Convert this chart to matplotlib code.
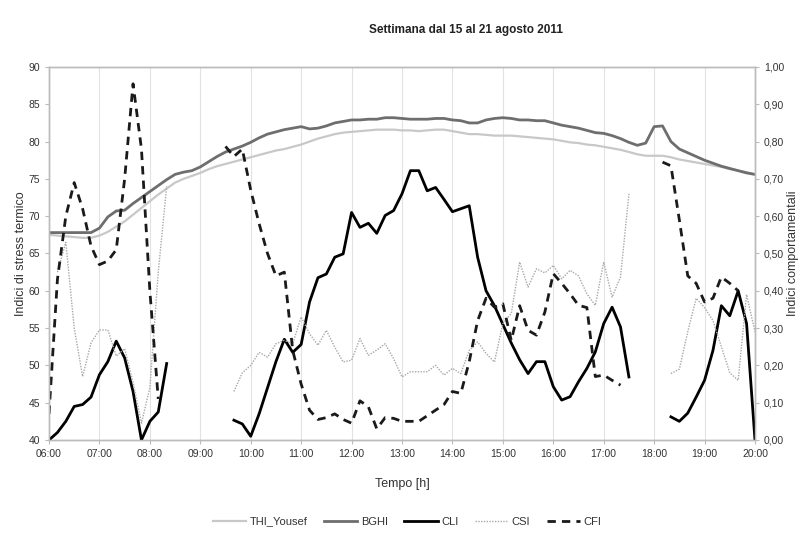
import numpy as np
import matplotlib
matplotlib.use("Agg")
import matplotlib.pyplot as plt
from matplotlib.ticker import FuncFormatter, MultipleLocator

plt.rcParams['font.family'] = ['Liberation Sans', 'DejaVu Sans']

nan = np.nan

# 10-minute readings from 06:00 to 20:00
hours = np.arange(85) / 6.0 + 6.0

thi = [67.5, 67.4, 67.3, 67.2, 67.1, 67.1, 67.4, 67.9, 68.6, 69.3,
       70.2, 71.1, 72.0, 72.9, 73.7, 74.5, 75.0, 75.4, 75.8, 76.3,
       76.7, 77.0, 77.3, 77.6, 77.9, 78.2, 78.5, 78.8, 79.0, 79.3,
       79.6, 80.0, 80.4, 80.7, 81.0, 81.2, 81.3, 81.4, 81.5, 81.6,
       81.6, 81.6, 81.5, 81.5, 81.4, 81.5, 81.6, 81.6, 81.4, 81.2,
       81.0, 81.0, 80.9, 80.8, 80.8, 80.8, 80.7, 80.6, 80.5, 80.4,
       80.3, 80.1, 79.9, 79.8, 79.6, 79.5, 79.3, 79.1, 78.9, 78.6,
       78.3, 78.1, 78.1, 78.1, 77.9, 77.6, 77.4, 77.2, 77.0, 76.8,
       76.6, 76.3, 76.1, 75.9, 75.6]

bghi = [67.8, 67.8, 67.8, 67.8, 67.8, 67.8, 68.4, 69.9, 70.7, 70.8,
        71.7, 72.5, 73.3, 74.1, 74.9, 75.6, 75.9, 76.1, 76.6, 77.3,
        78.0, 78.6, 79.0, 79.4, 79.9, 80.5, 81.0, 81.3, 81.6, 81.8,
        82.0, 81.7, 81.8, 82.1, 82.5, 82.7, 82.9, 82.9, 83.0, 83.0,
        83.2, 83.2, 83.1, 83.0, 83.0, 83.0, 83.1, 83.1, 82.9, 82.8,
        82.5, 82.5, 82.9, 83.1, 83.2, 83.1, 82.9, 82.9, 82.8, 82.8,
        82.5, 82.2, 82.0, 81.8, 81.5, 81.2, 81.1, 80.8, 80.4, 79.9,
        79.5, 79.8, 82.0, 82.1, 80.0, 79.0, 78.5, 78.0, 77.5, 77.1,
        76.7, 76.4, 76.1, 75.8, 75.6]

cli = [0.00, 0.02, 0.05, 0.09, 0.095, 0.115, 0.175, 0.21, 0.265, 0.22,
       0.13, 0.00, 0.05, 0.075, 0.205, nan, nan, nan, nan, nan,
       nan, nan, 0.053, 0.043, 0.01, 0.07, 0.14, 0.21, 0.27, 0.235,
       0.256, 0.37, 0.435, 0.445, 0.49, 0.499, 0.61, 0.57, 0.581, 0.554,
       0.602, 0.615, 0.66, 0.722, 0.722, 0.668, 0.677, 0.645, 0.612, 0.62,
       0.628, 0.49, 0.40, 0.36, 0.31, 0.26, 0.215, 0.178, 0.21, 0.21,
       0.143, 0.107, 0.116, 0.156, 0.192, 0.236, 0.312, 0.356, 0.303, 0.169,
       nan, nan, nan, nan, 0.062, 0.05, 0.072, 0.115, 0.16, 0.24,
       0.36, 0.333, 0.40, 0.312, 0.00]

csi = [nan, 0.45, 0.53, 0.30, 0.17, 0.26, 0.295, 0.295, 0.225, 0.245,
       0.155, 0.045, 0.14, 0.45, 0.68, nan, nan, nan, nan, nan,
       nan, nan, 0.13, 0.18, 0.20, 0.235, 0.222, 0.258, 0.267, 0.258,
       0.33, 0.285, 0.254, 0.294, 0.249, 0.209, 0.214, 0.272, 0.227, 0.241,
       0.258, 0.218, 0.169, 0.183, 0.183, 0.183, 0.20, 0.174, 0.192, 0.178,
       0.24, 0.263, 0.232, 0.209, 0.312, 0.339, 0.477, 0.41, 0.459, 0.448,
       0.468, 0.432, 0.455, 0.44, 0.392, 0.361, 0.477, 0.383, 0.437, 0.66,
       nan, nan, nan, nan, 0.178, 0.19, 0.29, 0.38, 0.355, 0.32,
       0.25, 0.18, 0.16, 0.39, 0.29]

cfi = [0.07, 0.43, 0.60, 0.69, 0.62, 0.52, 0.47, 0.48, 0.51, 0.70,
       0.955, 0.78, 0.40, 0.11, nan, nan, nan, nan, nan, nan,
       nan, 0.787, 0.76, 0.78, 0.67, 0.58, 0.50, 0.44, 0.45, 0.24,
       0.15, 0.08, 0.055, 0.06, 0.07, 0.055, 0.045, 0.105, 0.089, 0.03,
       0.06, 0.058, 0.05, 0.05, 0.05, 0.065, 0.08, 0.095, 0.13, 0.125,
       0.21, 0.32, 0.38, 0.356, 0.365, 0.267, 0.36, 0.294, 0.281, 0.343,
       0.446, 0.42, 0.392, 0.361, 0.355, 0.17, 0.174, 0.16, 0.147, nan,
       nan, nan, nan, 0.745, 0.735, 0.59, 0.44, 0.42, 0.37, 0.38,
       0.437, 0.42, 0.40, nan, nan]

txt = '#333333'
spine = '#bbbbbb'

fig = plt.figure(figsize=(8.06, 5.35), dpi=100)
ax = fig.add_axes([0.0608, 0.1776, 0.8759, 0.6972])
ax2 = ax.twinx()

l1, = ax.plot(hours, thi, color='#c8c8c8', lw=1.6, label='THI_Yousef')
l2, = ax.plot(hours, bghi, color='#6e6e6e', lw=2.0, label='BGHI')
l3, = ax2.plot(hours, cli, color='black', lw=2.0, label='CLI')
l4, = ax2.plot(hours, csi, color='#a8a8a8', lw=1.0, ls=(0, (1, 1)), label='CSI')
l5, = ax2.plot(hours, cfi, color='#1a1a1a', lw=2.0, ls=(0, (3, 2.2)), label='CFI')

ax.set_xlim(6, 20)
ax.set_ylim(40, 90)
ax2.set_ylim(0, 1)
ax.yaxis.set_major_locator(MultipleLocator(5))
ax2.yaxis.set_major_locator(MultipleLocator(0.1))
ax.xaxis.set_major_locator(MultipleLocator(1))
ax.xaxis.set_major_formatter(FuncFormatter(lambda v, p: '%02d:00' % int(round(v))))
ax2.yaxis.set_major_formatter(FuncFormatter(lambda v, p: ('%.2f' % v).replace('.', ',')))

ax.grid(axis='x', color='#e2e2e2', lw=0.8)
ax.set_axisbelow(True)

for a in (ax, ax2):
    for s in a.spines.values():
        s.set_color(spine)
        s.set_linewidth(1.0)
    a.tick_params(colors=spine, labelcolor=txt, labelsize=7.5, length=3, width=0.8)

ax.set_xlabel('Tempo [h]', fontsize=9, color=txt, labelpad=14)
ax.set_ylabel('Indici di stress termico', fontsize=9, color=txt, labelpad=1)
ax2.set_ylabel('Indici comportamentali', fontsize=9, color=txt, labelpad=2)

fig.text(0.578, 0.944, 'Settimana dal 15 al 21 agosto 2011', ha='center', va='center',
         fontsize=8.5, fontweight='bold', color='#222222')

fig.legend(handles=[l1, l2, l3, l4, l5], loc='center', bbox_to_anchor=(0.505, 0.025),
           ncol=5, frameon=False, fontsize=8, handlelength=3.0, columnspacing=1.5,
           labelcolor=txt, handletextpad=0.3)

fig.savefig('out.png', dpi=100)
